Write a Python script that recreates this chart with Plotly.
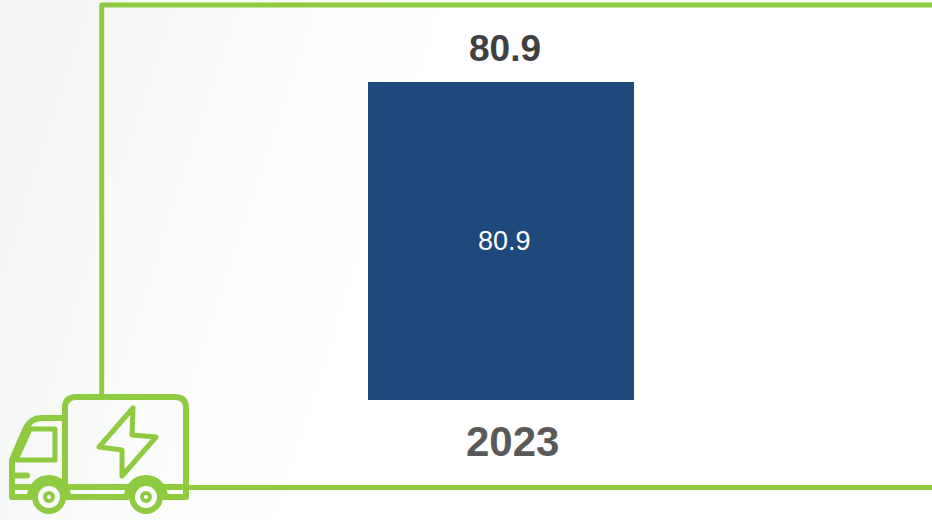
import base64
import plotly.graph_objects as go

categories = ["2023"]
values = [80.9]

W, H = 932, 520
L, R, T, B = 102, 32, 82, 120
pw, ph = W - L - R, H - T - B
GREEN = "#8FCB40"


def py(pixel_y):
    return 1 - (pixel_y - T) / ph


def px(pixel_x):
    return (pixel_x - L) / pw


svg = f'''<svg xmlns="http://www.w3.org/2000/svg" width="{W}" height="{H}" viewBox="0 0 {W} {H}">
<defs><linearGradient id="g" gradientUnits="userSpaceOnUse" x1="0" y1="0" x2="408" y2="133">
<stop offset="0" stop-color="#F2F3F3"/><stop offset="0.35" stop-color="#F6F7F7"/><stop offset="0.65" stop-color="#FBFCFC"/><stop offset="1" stop-color="#FFFFFF"/>
</linearGradient></defs>
<rect width="{W}" height="{H}" fill="url(#g)"/>
<g fill="none" stroke="{GREEN}" stroke-width="6" stroke-linejoin="round" stroke-linecap="round">
<path stroke-linecap="butt" stroke-width="5" d="M101.7 396 V5 H932"/>
<path stroke-linecap="butt" stroke-width="5" d="M186 487.5 H932"/>
<path d="M65 487 V408 Q65 397 76 397 H175 Q186 397 186 408 V497 H165"/>
<path d="M65 418 H42 Q30 418 25 430 L12 460 V497 H30"/>
<path d="M30 429 H55 V460 H16 Z" stroke-width="5"/>
<path d="M13 475.5 H27"/>
<path d="M13 487 H32 M66 487 H128 M164 487 H186"/>
<path d="M30 497 A19 19 0 0 1 68 497 M127 497 A19 19 0 0 1 165 497"/>
<path d="M68 497 H127"/>
<circle cx="49" cy="497" r="14" fill="#F9FAFA"/><circle cx="146" cy="497" r="14" fill="#FDFDFD"/>
<circle cx="49" cy="497" r="4" stroke-width="4"/><circle cx="146" cy="497" r="4" stroke-width="4"/>
<path d="M133 408 L99 447 L122 450 L122 476 L156 437 L132 435 Z" stroke-width="5"/>
</g></svg>'''
src = "data:image/svg+xml;base64," + base64.b64encode(svg.encode()).decode()

FONT = "Liberation Sans"
fig = go.Figure(go.Bar(
    x=categories, y=values, marker=dict(color="#1F497D", line=dict(width=0)),
    hoverinfo="skip", showlegend=False,
))
common = dict(xref="paper", yref="paper", showarrow=False, xanchor="center", yanchor="middle")
fig.update_layout(
    width=W, height=H, autosize=False,
    margin=dict(l=L, r=R, t=T, b=B, pad=0),
    paper_bgcolor="white", plot_bgcolor="rgba(0,0,0,0)",
    bargap=2 / 3,
    xaxis=dict(type="category", range=[-0.5, 0.5], visible=False),
    yaxis=dict(range=[0, 80.9], visible=False),
    images=[dict(source=src, xref="paper", yref="paper",
                 x=-L / pw, y=1 + T / ph, sizex=W / pw, sizey=H / ph,
                 xanchor="left", yanchor="top", sizing="stretch", layer="below")],
    annotations=[
        dict(x=px(504), y=py(241), text=f"{values[0]}",
             font=dict(family=FONT, size=27, color="#FFFFFF"), **common),
        dict(x=px(505), y=py(49), text=f"<b>{values[0]}</b>",
             font=dict(family=FONT, size=37, color="#404040"), **common),
        dict(x=px(512.5), y=py(441), text=f"<b>{categories[0]}</b>",
             font=dict(family=FONT, size=42, color="#595959"), **common),
    ],
)
fig.write_html("out.html", config={"displayModeBar": False},
               post_script="document.body.style.margin='0';document.documentElement.style.overflow='hidden';")
